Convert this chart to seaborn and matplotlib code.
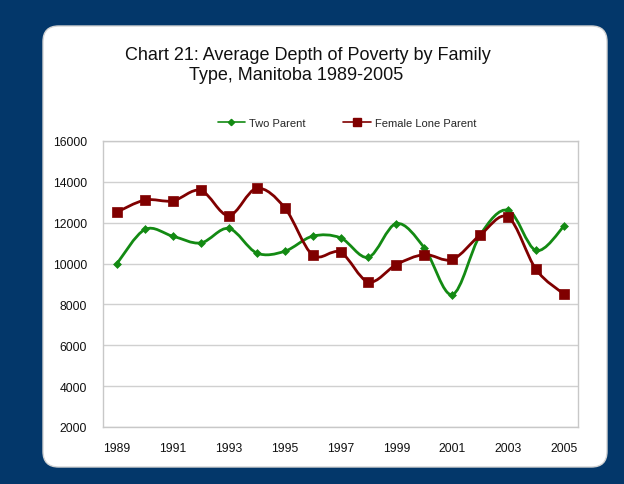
import numpy as np
import pandas as pd
import matplotlib
matplotlib.use("Agg")
import matplotlib.pyplot as plt
from matplotlib.path import Path
from matplotlib.patches import PathPatch, FancyBboxPatch
from matplotlib.lines import Line2D
import seaborn as sns

years = list(range(1989, 2006))
two_parent = [10000, 11670, 11340, 11010, 11720, 10520, 10600, 11340, 11260,
              10310, 11960, 10770, 8480, 11400, 12610, 10640, 11830]
female_lone = [12520, 13110, 13070, 13580, 12350, 13680, 12740, 10420, 10550,
               9100, 9950, 10440, 10200, 11400, 12270, 9710, 8500]
series_names = ["Two Parent", "Female Lone Parent"]
title_lines = ["Chart 21: Average Depth of Poverty by Family", "Type, Manitoba 1989-2005"]
y_ticks = [2000, 4000, 6000, 8000, 10000, 12000, 14000, 16000]
x_labels = [1989, 1991, 1993, 1995, 1997, 1999, 2001, 2003, 2005]

colors = {"Two Parent": "#138A13", "Female Lone Parent": "#800000"}
markers = {"Two Parent": "D", "Female Lone Parent": "s"}
msizes = {"Two Parent": 4, "Female Lone Parent": 7}

df = pd.DataFrame({"Year": years * 2,
                   "Value": two_parent + female_lone,
                   "Series": [series_names[0]] * len(years) + [series_names[1]] * len(years)})

sns.set_style("white")
plt.rcParams["font.family"] = ["Liberation Sans", "DejaVu Sans"]

W, H = 624, 485
fig = plt.figure(figsize=(W / 100, H / 100), dpi=100)
fig.patch.set_facecolor("#03376A")

# white rounded panel
px0, py0, px1, py1 = 43, 27, 607, 468
panel = FancyBboxPatch((px0 / W, 1 - py1 / H), (px1 - px0) / W, (py1 - py0) / H,
                       boxstyle="round,pad=0,rounding_size=0.025",
                       transform=fig.transFigure, facecolor="white",
                       edgecolor="#D4D4D4", linewidth=1.0, mutation_aspect=W / H,
                       zorder=-10)
fig.patches.append(panel)

ax_l, ax_r, ax_t, ax_b = 103, 578, 142, 428
ax = fig.add_axes([ax_l / W, 1 - ax_b / H, (ax_r - ax_l) / W, (ax_b - ax_t) / H])
ax.set_facecolor("none")
ax.set_zorder(1)


def smooth_path(x, y):
    x = np.asarray(x, float)
    y = np.asarray(y, float)
    n = len(x)
    verts = [(x[0], y[0])]
    codes = [Path.MOVETO]
    for i in range(n - 1):
        p0 = (x[max(i - 1, 0)], y[max(i - 1, 0)])
        p1 = (x[i], y[i])
        p2 = (x[i + 1], y[i + 1])
        p3 = (x[min(i + 2, n - 1)], y[min(i + 2, n - 1)])
        c1 = (p1[0] + (p2[0] - p0[0]) / 6, p1[1] + (p2[1] - p0[1]) / 6)
        c2 = (p2[0] - (p3[0] - p1[0]) / 6, p2[1] - (p3[1] - p1[1]) / 6)
        verts += [c1, c2, p2]
        codes += [Path.CURVE4] * 3
    return Path(verts, codes)


for name in series_names:
    sub = df[df["Series"] == name]
    ax.add_patch(PathPatch(smooth_path(sub["Year"], sub["Value"]), facecolor="none",
                           edgecolor=colors[name], linewidth=2.0, zorder=3))

for name in series_names:
    sub = df[df["Series"] == name]
    sns.scatterplot(data=sub, x="Year", y="Value", ax=ax, marker=markers[name],
                    color=colors[name], s=msizes[name] ** 2, edgecolor=colors[name],
                    linewidth=0.5, zorder=4, legend=False)

ax.set_xlim(1988.5, 2005.5)
ax.set_ylim(2000, 16000)
ax.set_yticks(y_ticks)
ax.set_yticklabels([str(v) for v in y_ticks])
ax.set_xticks(x_labels)
ax.set_xticklabels([str(v) for v in x_labels])
ax.set_xticks(np.arange(1988.5, 2006, 1.0), minor=True)
ax.grid(axis="y", color="#D0D0D0", linewidth=1.0, zorder=0)
ax.set_axisbelow(True)
for s in ax.spines.values():
    s.set_color("#C8C8C8")
    s.set_linewidth(1.0)
ax.tick_params(axis="y", which="major", length=3.5, width=1, color="#C8C8C8",
               labelsize=8.7, pad=8, labelcolor="#111111")
ax.tick_params(axis="x", which="major", length=0, labelsize=8.7, pad=11,
               labelcolor="#111111")
ax.tick_params(axis="x", which="minor", length=4, width=1, color="#C8C8C8")
ax.set_xlabel("")
ax.set_ylabel("")

fig.text(308 / W, 1 - 55 / H, title_lines[0], ha="center", va="center",
         fontsize=13, color="#111111")
fig.text(296 / W, 1 - 75 / H, title_lines[1], ha="center", va="center",
         fontsize=13, color="#111111")

handles = [Line2D([0], [0], color=colors[n], marker=markers[n],
                  markersize=msizes[n] * 0.8, linewidth=1.2) for n in series_names]
fig.legend(handles, series_names, loc="center", bbox_to_anchor=(347 / W, 1 - 124 / H),
           ncol=2, frameon=False, fontsize=8, handlelength=2.5, handletextpad=0.35,
           columnspacing=3.4)

fig.savefig("out.png", dpi=100, facecolor=fig.get_facecolor())
